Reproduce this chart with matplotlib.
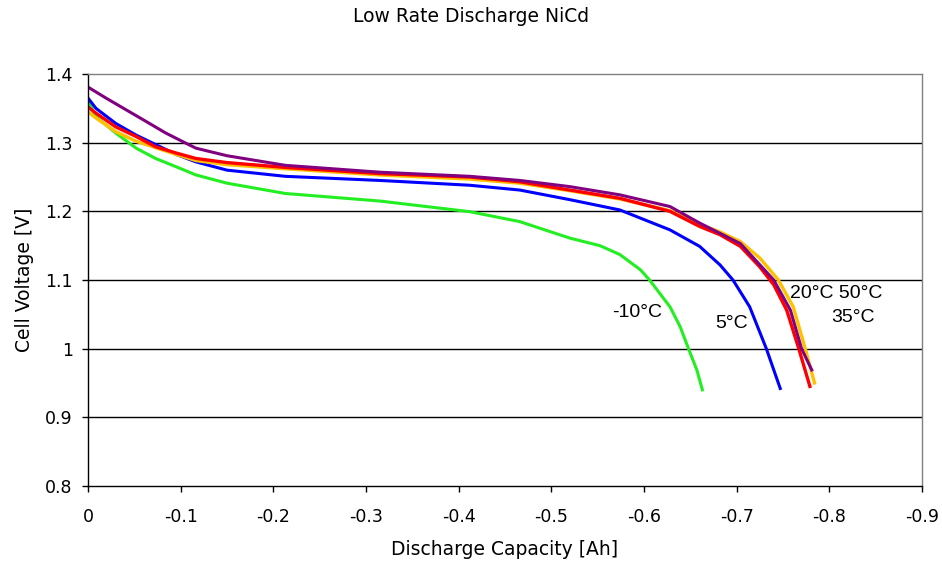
import matplotlib.pyplot as plt
import matplotlib as mpl

mpl.rcParams['font.family'] = ['DejaVu Sans']
mpl.rcParams['axes.linewidth'] = 1

# discharge capacity [Ah] (negative, as in the source) and cell voltage [V]
cap_m10 = [0, -0.0086, -0.030, -0.052, -0.073, -0.095, -0.1165, -0.15, -0.213,
           -0.315, -0.412, -0.466, -0.520, -0.5525, -0.574, -0.596, -0.606,
           -0.628, -0.639, -0.648, -0.657, -0.663]
v_m10 = [1.362, 1.338, 1.314, 1.292, 1.277, 1.265, 1.253, 1.241, 1.226,
         1.215, 1.1995, 1.185, 1.161, 1.150, 1.137, 1.115, 1.100,
         1.061, 1.032, 1.000, 0.969, 0.940]

cap_5 = [0, -0.0086, -0.030, -0.052, -0.095, -0.1165, -0.15, -0.213, -0.315,
         -0.412, -0.466, -0.520, -0.574, -0.628, -0.660, -0.682, -0.696,
         -0.714, -0.732, -0.747]
v_5 = [1.365, 1.350, 1.328, 1.311, 1.283, 1.272, 1.260, 1.251, 1.245,
       1.238, 1.231, 1.217, 1.202, 1.173, 1.149, 1.122, 1.100,
       1.061, 1.000, 0.942]

cap_20 = [0, -0.0086, -0.030, -0.052, -0.073, -0.095, -0.1165, -0.15, -0.213,
          -0.315, -0.412, -0.466, -0.520, -0.574, -0.628, -0.660, -0.682,
          -0.704, -0.725, -0.740, -0.754, -0.767, -0.779]
v_20 = [1.352, 1.343, 1.323, 1.309, 1.294, 1.285, 1.277, 1.271, 1.264,
        1.255, 1.250, 1.243, 1.231, 1.219, 1.200, 1.178, 1.166,
        1.149, 1.119, 1.093, 1.056, 1.000, 0.945]

cap_35 = [0, -0.0086, -0.030, -0.052, -0.095, -0.1165, -0.15, -0.213, -0.315,
          -0.412, -0.466, -0.520, -0.574, -0.628, -0.660, -0.682, -0.704,
          -0.725, -0.745, -0.761, -0.774, -0.784]
v_35 = [1.345, 1.336, 1.316, 1.302, 1.283, 1.274, 1.268, 1.262, 1.253,
        1.247, 1.241, 1.230, 1.218, 1.201, 1.181, 1.170, 1.156,
        1.132, 1.100, 1.061, 1.000, 0.950]

cap_50 = [0, -0.0194, -0.041, -0.0626, -0.084, -0.106, -0.1165, -0.15, -0.213,
          -0.315, -0.412, -0.466, -0.520, -0.574, -0.628, -0.660, -0.704,
          -0.740, -0.758, -0.770, -0.781]
v_50 = [1.381, 1.365, 1.348, 1.331, 1.314, 1.299, 1.292, 1.281, 1.267,
        1.257, 1.251, 1.245, 1.236, 1.224, 1.207, 1.183, 1.153,
        1.100, 1.056, 1.000, 0.969]

xticks = [0, -0.1, -0.2, -0.3, -0.4, -0.5, -0.6, -0.7, -0.8, -0.9]
xtick_labels = ['0', '-0.1', '-0.2', '-0.3', '-0.4', '-0.5', '-0.6', '-0.7', '-0.8', '-0.9']
yticks = [0.8, 0.9, 1.0, 1.1, 1.2, 1.3, 1.4]
ytick_labels = ['0.8', '0.9', '1', '1.1', '1.2', '1.3', '1.4']

fig = plt.figure(figsize=(9.42, 5.69), dpi=100)
ax = fig.add_axes([0.0934, 0.1459, 0.8854, 0.724])

ax.plot(cap_m10, v_m10, color='#22ee22', lw=2.2)
ax.plot(cap_5, v_5, color='#0000ff', lw=2.2)
ax.plot(cap_35, v_35, color='#ffc000', lw=2.4)
ax.plot(cap_20, v_20, color='#ff0000', lw=2.4)
ax.plot(cap_50, v_50, color='#800080', lw=2.2)

ax.set_xlim(0, -0.9)
ax.set_ylim(0.8, 1.4)
ax.set_xticks(xticks)
ax.set_xticklabels(xtick_labels)
ax.set_yticks(yticks)
ax.set_yticklabels(ytick_labels)
ax.tick_params(axis='x', direction='out', length=4, width=1, pad=12, labelsize=12.5)
ax.tick_params(axis='y', direction='out', length=4, width=1, pad=7, labelsize=12.5)

for y in yticks[1:-1]:
    ax.axhline(y, color='black', lw=1, zorder=0)
ax.spines['top'].set_color('#808080')
ax.spines['right'].set_color('#808080')

ax.set_xlabel('Discharge Capacity [Ah]', fontsize=13.5, labelpad=10)
ax.set_ylabel('Cell Voltage [V]', fontsize=13.5, labelpad=8)
fig.text(0.5, 1 - 17 / 569, 'Low Rate Discharge NiCd', ha='center', va='center', fontsize=13.5)

lab_font = ['Liberation Sans', 'DejaVu Sans']
ax.text(-0.593, 1.052, '-10°C', ha='center', va='center', fontsize=14, family=lab_font)
ax.text(-0.694, 1.037, '5°C', ha='center', va='center', fontsize=14, family=lab_font)
ax.text(-0.807, 1.080, '20°C 50°C', ha='center', va='center', fontsize=14, family=lab_font)
ax.text(-0.826, 1.045, '35°C', ha='center', va='center', fontsize=14, family=lab_font)

plt.savefig('out.png', dpi=100)
